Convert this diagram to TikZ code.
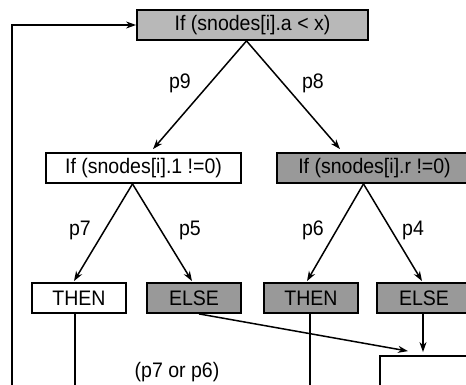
\documentclass[tikz,border=0pt]{standalone}
\usepackage{fontspec}
\setmainfont{Liberation Sans}[FakeStretch=0.93]
\usetikzlibrary{arrows.meta}
\begin{document}
\begin{tikzpicture}[x=1pt,y=-1pt,
  every node/.style={font=\fontsize{21}{23}\selectfont},
  box/.style={draw=black,line width=1.8pt,minimum height=30pt,inner sep=0pt,anchor=center},
  light/.style={box,fill=black!28},
  dark/.style={box,fill=black!40},
  plain/.style={box,fill=white},
  lab/.style={inner sep=0pt},
  wire/.style={line width=1.5pt},
  arr/.style={wire,-{Stealth[length=10pt,width=7pt]}}]
\useasboundingbox (0,0) rectangle (466,385);
\clip (0,0) rectangle (466,385);

% decision tree boxes
\node[light,minimum width=231pt] (top) at (252.5,25) {If (snodes[i].a < x)};
\node[plain,minimum width=195pt] (lt) at (143.5,168) {If (snodes[i].1 !=0)};
\node[dark,minimum width=195pt] (rt) at (374.5,168) {If (snodes[i].r !=0)};
\node[plain,minimum width=94pt] (then1) at (79,298) {THEN};
\node[dark,minimum width=94pt] (else1) at (194,298) {ELSE};
\node[dark,minimum width=94pt] (then2) at (311,298) {THEN};
\node[dark,minimum width=94pt] (else2) at (424,298) {ELSE};
\node[plain,minimum width=94pt] (res) at (427,371) {};

% free ends running off the lower edge
\coordinate (loop) at (12,400);
\coordinate (t1end) at (75,400);
\coordinate (t2end) at (310,400);

% branches
\draw[arr] ([xshift=-6pt]top.south) -- ([xshift=9.5pt,yshift=3pt]lt.north);
\draw[arr] ([xshift=-6pt]top.south) -- ([xshift=-34.5pt,yshift=3pt]rt.north);
\draw[arr] ([xshift=-11pt]lt.south) -- ([xshift=-5pt,yshift=1pt]then1.north);
\draw[arr] ([xshift=-11pt]lt.south) -- ([xshift=-2pt,yshift=1pt]else1.north);
\draw[arr] ([xshift=-11pt]rt.south) -- ([xshift=-4pt,yshift=1pt]then2.north);
\draw[arr] ([xshift=-11pt]rt.south) -- ([xshift=-2pt,yshift=1pt]else2.north);

% results
\draw[arr] ([xshift=5pt]else1.south) -- ([xshift=-19pt,yshift=4pt]res.north);
\draw[arr] ([xshift=-1pt]else2.south) -- ([xshift=-4pt,yshift=3pt]res.north);
\draw[wire] ([xshift=-4pt]then1.south) -- (t1end);
\draw[wire] ([xshift=-1pt]then2.south) -- (t2end);
\draw[arr] (loop) |- (top.west);

% path labels
\node[lab] (l9) at (180,83) {p9};
\node[lab] (l8) at (313,83) {p8};
\node[lab] (l7) at (80,230) {p7};
\node[lab] (l5) at (190,230) {p5};
\node[lab] (l6) at (313,230) {p6};
\node[lab] (l4) at (413,230) {p4};
\node[lab] (l76) at (177,372) {(p7 or p6)};
\end{tikzpicture}
\end{document}
